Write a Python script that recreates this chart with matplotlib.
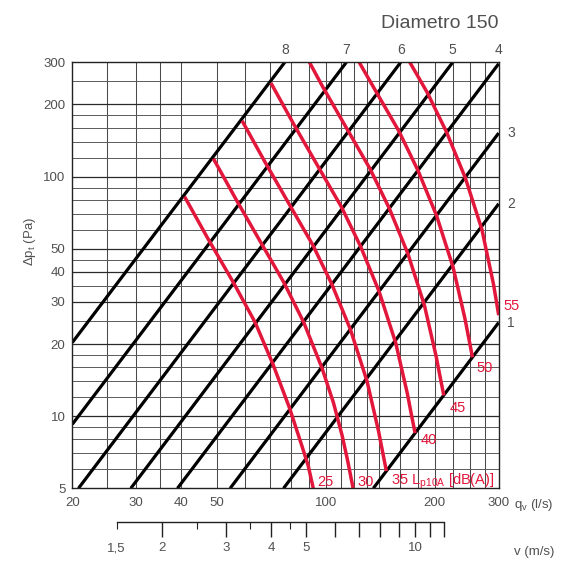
import matplotlib
matplotlib.use("Agg")
import matplotlib.pyplot as plt

plt.rcParams['font.family'] = ['Liberation Sans', 'DejaVu Sans']
plt.rcParams['mathtext.fontset'] = 'custom'
plt.rcParams['mathtext.rm'] = 'Liberation Sans'

# ---- data ----
# grid values
q_grid = [25, 30, 35, 40, 50, 60, 70, 80, 90, 100, 110, 120, 130, 140, 160, 180, 200, 225, 250, 275]
dp_grid = [6, 7, 8, 9, 10, 12, 14, 16, 18, 20, 25, 30, 35, 40, 45, 50, 60, 70, 80, 90,
           100, 120, 140, 160, 180, 200, 250]
q_ticks = [20, 30, 40, 50, 100, 200, 300]
dp_ticks = [5, 10, 20, 30, 40, 50, 100, 200, 300]

# black lines (damper positions 1..8): start and end points
line_names = ['1', '2', '3', '4', '5', '6', '7', '8']
line_q_start = [135.3, 76.5, 54.5, 39.0, 29.0, 20.8, 20.0, 20.0]
line_dp_start = [5, 5, 5, 5, 5, 5, 9.25, 20.3]
line_q_end = [300, 300, 300, 300, 224, 161, 114, 77.1]
line_dp_end = [24.6, 77, 152, 296, 300, 300, 300, 300]

# red sound level curves Lp10A
q_25 = [40.8, 47.2, 55.6, 63.9, 71.5, 79.5, 86, 89.5, 92.4]
dp_25 = [82.5, 55.5, 36.2, 24.6, 16.5, 10.8, 7.5, 6.2, 5.0]
q_30 = [49, 56.7, 66.7, 76.7, 86.9, 97.5, 105, 111, 115, 119]
dp_30 = [118.8, 79.9, 52.1, 36.1, 24.7, 16.0, 11.4, 8.3, 6.5, 5.0]
q_35 = [58.8, 68, 80, 92, 104, 117, 130, 140, 143.5, 147]
dp_35 = [171, 115, 75, 52, 35.5, 23, 14, 8.6, 7.1, 5.9]
q_40 = [70.6, 81.6, 96, 110.4, 124.8, 140.4, 156, 168, 172.2, 176.4]
dp_40 = [246, 165.6, 108, 74.9, 51.1, 33.1, 20.2, 12.4, 10.2, 8.5]
q_45 = [90.2, 97.9, 115.2, 132.5, 149.8, 168.5, 187.2, 201.6, 206.6, 211.7]
dp_45 = [300, 238.5, 155.5, 107.8, 73.6, 47.7, 29.0, 17.8, 14.7, 12.2]
q_50 = [123.7, 138.2, 159, 179.7, 202.2, 224.6, 241.9, 248, 254]
dp_50 = [300, 224, 155.3, 106, 68.7, 41.8, 25.7, 21.2, 17.6]
q_55 = [170.6, 190.8, 215.7, 242.6, 269.6, 290.3, 300]
dp_55 = [300, 223.6, 152.7, 98.9, 60.2, 35.5, 26.4]

curve_q = [q_25, q_30, q_35, q_40, q_45, q_50, q_55]
curve_dp = [dp_25, dp_30, dp_35, dp_40, dp_45, dp_50, dp_55]
curve_names = ['25', '30', '35 L$_\\mathregular{p10A}$ [dB(A)]', '40', '45', '50', '55']
# label offsets (points) and vertical alignment for each curve label
label_offsets = [(3, 2), (3.5, 2), (3, 0), (4, 0), (4, -4), (3, -2.5), (3.5, 3.5)]
label_va = ['baseline', 'baseline', 'top', 'top', 'top', 'top', 'baseline']

# velocity scale (m/s) for the 150 mm duct
v_major = [2, 3, 4, 5, 6, 7, 8, 9, 10, 11, 12]
v_major_labels = ['2', '3', '4', '5', '', '', '', '', '10', '', '']
v_minor = [1.5, 2.5, 3.5, 4.5]
v_minor_labels = ['1,5', '', '', '']
duct_area = 17.67  # l/s per m/s for diameter 150

RED = '#e2173b'
TXT = '#505050'

fig = plt.figure(figsize=(5.66, 5.63), dpi=100)
ax = fig.add_axes([72.3 / 566, 74.7 / 563, 426.4 / 566, 426 / 563])
ax.set_xscale('log')
ax.set_yscale('log')
ax.set_xlim(20, 300)
ax.set_ylim(5, 300)

# grid
for q in q_grid:
    ax.axvline(q, color='#4a4a4a', lw=0.75, zorder=1)
for dp in dp_grid:
    dark = dp in dp_ticks
    ax.axhline(dp, color='#2a2a2a' if dark else '#5a5a5a', lw=0.9 if dark else 0.7, zorder=1)

# black lines
for i in range(len(line_names)):
    ax.plot([line_q_start[i], line_q_end[i]], [line_dp_start[i], line_dp_end[i]],
            color='black', lw=2.3, solid_capstyle='butt', zorder=3)
    if line_dp_end[i] >= 296 and line_q_end[i] < 300 or line_names[i] == '4':
        ax.annotate(line_names[i], (line_q_end[i], 300), xytext=(0, 6), textcoords='offset points',
                    ha='center', va='baseline', fontsize=10, color=TXT)
    else:
        ax.annotate(line_names[i], (300, line_dp_end[i]), xytext=(6, 0), textcoords='offset points',
                    ha='left', va='center', fontsize=10, color=TXT)

# red curves
for i in range(len(curve_q)):
    ax.plot(curve_q[i], curve_dp[i], color=RED, lw=2.5, solid_capstyle='butt', zorder=4)
    ax.annotate(curve_names[i], (curve_q[i][-1], curve_dp[i][-1]), xytext=label_offsets[i],
                textcoords='offset points', ha='left', va=label_va[i], fontsize=10.5, color=RED,
                annotation_clip=False)

# axes styling
ax.set_xticks(q_ticks, [str(q) for q in q_ticks])
ax.set_yticks(dp_ticks, [str(d) for d in dp_ticks])
ax.minorticks_off()
ax.tick_params(length=0, labelsize=9.5, labelcolor=TXT)
ax.tick_params(axis='x', pad=6)
ax.tick_params(axis='y', pad=5)
for s in ax.spines.values():
    s.set_color('#222222')
    s.set_linewidth(1.0)
    s.set_zorder(5)

ax.set_ylabel('$\\mathregular{\\Delta p_t}$ (Pa)', fontsize=9.5, color=TXT)
ax.yaxis.set_label_coords(-0.08, 0.58)
ax.annotate('q$_\\mathregular{v}$ (l/s)', (1, 0), xycoords='axes fraction', xytext=(11, -14),
            textcoords='offset points', ha='left', va='baseline', fontsize=9.5, color=TXT)
ax.annotate('Diametro 150', (1, 1), xycoords='axes fraction', xytext=(0, 24.5),
            textcoords='offset points', ha='right', va='baseline', fontsize=14, color=TXT)

# velocity axis below
sec = ax.secondary_xaxis(-0.079, functions=(lambda q: q / duct_area, lambda v: v * duct_area))
sec.set_xticks(v_major, v_major_labels)
sec.set_xticks(v_minor, v_minor_labels, minor=True)
sec.spines['bottom'].set_bounds(1.5, 12)
sec.spines['bottom'].set_color('#222222')
sec.spines['bottom'].set_linewidth(1.0)
sec.tick_params(which='major', direction='out', length=10.5, width=1.0, color='#222222',
                labelsize=9.5, labelcolor=TXT, pad=4)
sec.tick_params(which='minor', direction='out', length=5, width=0.8, color='#222222',
                labelsize=9.5, labelcolor=TXT, pad=9.5)
ax.annotate('v (m/s)', (1, 0), xycoords='axes fraction', xytext=(11, -48),
            textcoords='offset points', ha='left', va='baseline', fontsize=9.5, color=TXT)

fig.savefig('out.png', dpi=100)
